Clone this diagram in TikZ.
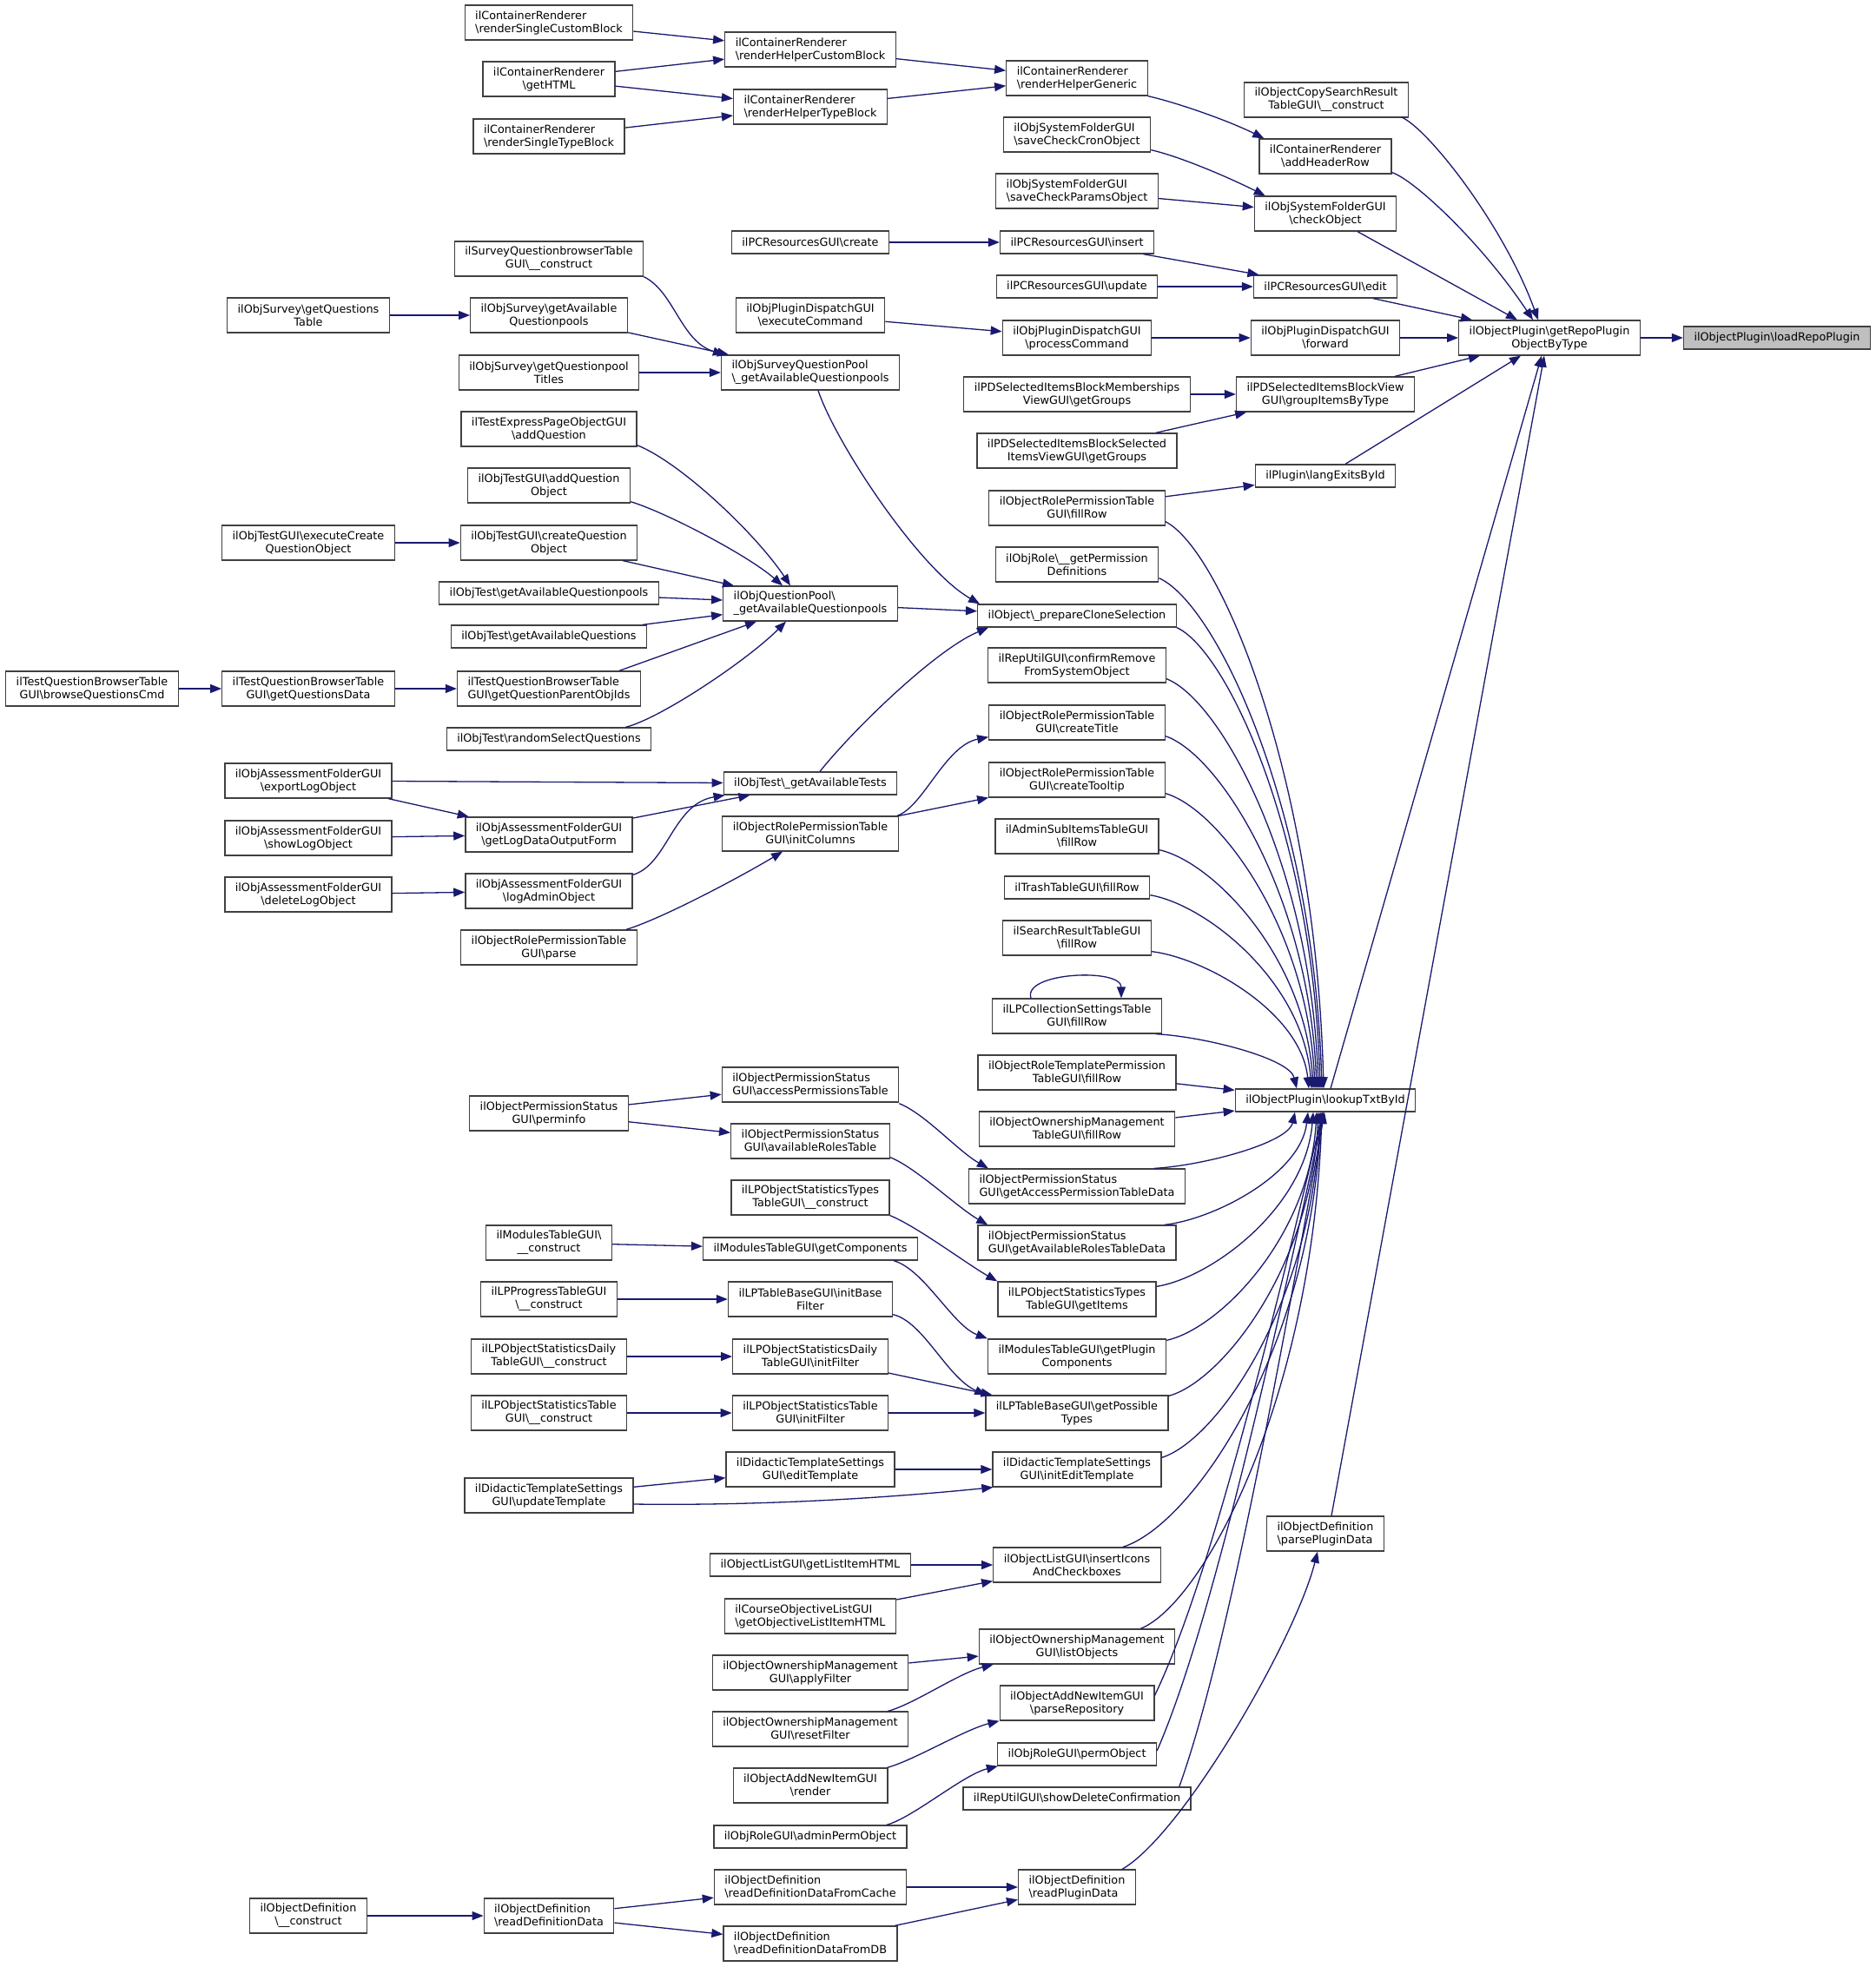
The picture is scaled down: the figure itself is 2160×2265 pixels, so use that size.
\documentclass[tikz,border=0pt]{standalone}
\usepackage{fontspec}
\newfontfamily\dvs{DejaVu Sans}
\usetikzlibrary{arrows.meta,calc}
\definecolor{edc}{HTML}{191970}
\definecolor{ndc}{HTML}{404040}
\definecolor{selc}{HTML}{BFBFBF}
\newcommand{\bsl}{\textbackslash}
\newcommand{\hubc}[6]{\draw[e] let \p1=(#1), \p2=(#2) in (\p1) .. controls ({\x1+#3*(\x2-\x1)},{\y1+#4*(\y2-\y1)}) and ({\x2-#5*(\x2-\x1)},{\y2-#6*(\y2-\y1)}) .. (\p2);}
\newcommand{\hub}[2]{\hubc{#1}{#2}{0.35}{0.05}{0.05}{0.55}}
\tikzset{
  nb/.style={draw=ndc, fill=white, line width=1.3pt, inner xsep=12pt, inner ysep=2pt, font=\dvs\fontsize{12.8}{15}\selectfont},
  n1/.style={nb, minimum height=26pt},
  n2/.style={nb, minimum height=40pt, align=center},
  n2l/.style={nb, minimum height=40pt, align=left},
  e/.style={draw=edc, line width=1.3pt, -{Triangle[length=13pt,width=10pt]}},
}
\begin{document}
\begin{tikzpicture}[x=1pt,y=-1pt]
\fill[white] (0,0) rectangle (2160,2265);
\useasboundingbox (0,0) rectangle (2160,2265);
% column 7 / 6
\node[n1, fill=selc] (lrp) at (2046,389) {ilObjectPlugin\bsl loadRepoPlugin};
\node[n2] (grp) at (1784,389) {ilObjectPlugin\bsl getRepoPlugin\\ObjectByType};
% column 5
\node[n2] (cps) at (1527,115) {ilObjectCopySearchResult\\TableGUI\bsl\_\_construct};
\node[n2] (ahr) at (1526,180) {ilContainerRenderer\\\bsl addHeaderRow};
\node[n2] (sfc) at (1526,246) {ilObjSystemFolderGUI\\\bsl checkObject};
\node[n1] (pce) at (1526,330) {ilPCResourcesGUI\bsl edit};
\node[n2] (pdf) at (1526,389) {ilObjPluginDispatchGUI\\\bsl forward};
\node[n2] (gib) at (1526,454) {ilPDSelectedItemsBlockView\\GUI\bsl groupItemsByType};
\node[n1] (lei) at (1526,548) {ilPlugin\bsl langExitsById};
\node[n1] (lk) at (1526,1267) {ilObjectPlugin\bsl lookupTxtById};
\node[n2l] (ppd) at (1526,1766) {ilObjectDefinition\\\bsl parsePluginData};
% column 4
\node[n2l] (rhg) at (1240,90) {ilContainerRenderer\\\bsl renderHelperGeneric};
\node[n2l] (scc) at (1240,155) {ilObjSystemFolderGUI\\\bsl saveCheckCronObject};
\node[n2l] (scp) at (1240,220) {ilObjSystemFolderGUI\\\bsl saveCheckParamsObject};
\node[n1] (pci) at (1240,279) {ilPCResourcesGUI\bsl insert};
\node[n1] (pcu) at (1240,330) {ilPCResourcesGUI\bsl update};
\node[n2] (ppc) at (1240,389) {ilObjPluginDispatchGUI\\\bsl processCommand};
\node[n2] (pdm) at (1240,454) {ilPDSelectedItemsBlockMemberships\\ViewGUI\bsl getGroups};
\node[n2] (pds) at (1240,519) {ilPDSelectedItemsBlockSelected\\ItemsViewGUI\bsl getGroups};
\node[n2] (rfr) at (1240,585) {ilObjectRolePermissionTable\\GUI\bsl fillRow};
\node[n2] (gpd) at (1240,650) {ilObjRole\bsl\_\_getPermission\\Definitions};
\node[n1] (pcs) at (1240,709) {ilObject\bsl\_prepareCloneSelection};
\node[n2] (crm) at (1240,766) {ilRepUtilGUI\bsl confirmRemove\\FromSystemObject};
\node[n2] (ctt) at (1240,832) {ilObjectRolePermissionTable\\GUI\bsl createTitle};
\node[n2] (cto) at (1240,898) {ilObjectRolePermissionTable\\GUI\bsl createTooltip};
\node[n2] (asi) at (1240,963) {ilAdminSubItemsTableGUI\\\bsl fillRow};
\node[n1] (trs) at (1240,1022) {ilTrashTableGUI\bsl fillRow};
\node[n2] (srt) at (1240,1080) {ilSearchResultTableGUI\\\bsl fillRow};
\node[n2] (lpc) at (1240,1170) {ilLPCollectionSettingsTable\\GUI\bsl fillRow};
\node[n2] (rtp) at (1240,1235) {ilObjectRoleTemplatePermission\\TableGUI\bsl fillRow};
\node[n2] (omt) at (1240,1300) {ilObjectOwnershipManagement\\TableGUI\bsl fillRow};
\node[n2l] (gap) at (1240,1366) {ilObjectPermissionStatus\\GUI\bsl getAccessPermissionTableData};
\node[n2l] (gar) at (1240,1431) {ilObjectPermissionStatus\\GUI\bsl getAvailableRolesTableData};
\node[n2] (gti) at (1240,1496) {ilLPObjectStatisticsTypes\\TableGUI\bsl getItems};
\node[n2] (gpc) at (1240,1562) {ilModulesTableGUI\bsl getPlugin\\Components};
\node[n2] (gpt) at (1240,1627) {ilLPTableBaseGUI\bsl getPossible\\Types};
\node[n2] (iet) at (1240,1692) {ilDidacticTemplateSettings\\GUI\bsl initEditTemplate};
\node[n2] (iic) at (1240,1802) {ilObjectListGUI\bsl insertIcons\\AndCheckboxes};
\node[n2] (lob) at (1240,1896) {ilObjectOwnershipManagement\\GUI\bsl listObjects};
\node[n2] (prp) at (1240,1961) {ilObjectAddNewItemGUI\\\bsl parseRepository};
\node[n1] (pob) at (1240,2020) {ilObjRoleGUI\bsl permObject};
\node[n1] (sdc) at (1240,2071) {ilRepUtilGUI\bsl showDeleteConfirmation};
\node[n2l] (rpd) at (1240,2173) {ilObjectDefinition\\\bsl readPluginData};
% column 3
\node[n2l] (rhc) at (933,57) {ilContainerRenderer\\\bsl renderHelperCustomBlock};
\node[n2l] (rht) at (933,123) {ilContainerRenderer\\\bsl renderHelperTypeBlock};
\node[n1] (pcc) at (933,279) {ilPCResourcesGUI\bsl create};
\node[n2] (pec) at (933,363) {ilObjPluginDispatchGUI\\\bsl executeCommand};
\node[n2l] (sqp) at (933,429) {ilObjSurveyQuestionPool\\\bsl\_getAvailableQuestionpools};
\node[n2l] (oqp) at (933,695) {ilObjQuestionPool\bsl\\\_getAvailableQuestionpools};
\node[n1] (gat) at (933,902) {ilObjTest\bsl\_getAvailableTests};
\node[n2] (ico) at (933,960) {ilObjectRolePermissionTable\\GUI\bsl initColumns};
\node[n2l] (apt) at (933,1249) {ilObjectPermissionStatus\\GUI\bsl accessPermissionsTable};
\node[n2] (art) at (933,1314) {ilObjectPermissionStatus\\GUI\bsl availableRolesTable};
\node[n2] (stc) at (933,1379) {ilLPObjectStatisticsTypes\\TableGUI\bsl\_\_construct};
\node[n1] (mgc) at (933,1438) {ilModulesTableGUI\bsl getComponents};
\node[n2] (ibf) at (933,1496) {ilLPTableBaseGUI\bsl initBase\\Filter};
\node[n2] (dif) at (933,1562) {ilLPObjectStatisticsDaily\\TableGUI\bsl initFilter};
\node[n2] (tif) at (933,1627) {ilLPObjectStatisticsTable\\GUI\bsl initFilter};
\node[n2] (edt) at (933,1692) {ilDidacticTemplateSettings\\GUI\bsl editTemplate};
\node[n1] (gli) at (933,1802) {ilObjectListGUI\bsl getListItemHTML};
\node[n2l] (goi) at (933,1861) {ilCourseObjectiveListGUI\\\bsl getObjectiveListItemHTML};
\node[n2] (oaf) at (933,1926) {ilObjectOwnershipManagement\\GUI\bsl applyFilter};
\node[n2] (orf) at (933,1991) {ilObjectOwnershipManagement\\GUI\bsl resetFilter};
\node[n2] (anr) at (933,2056) {ilObjectAddNewItemGUI\\\bsl render};
\node[n1] (apo) at (933,2115) {ilObjRoleGUI\bsl adminPermObject};
\node[n2l] (rdc) at (933,2173) {ilObjectDefinition\\\bsl readDefinitionDataFromCache};
\node[n2l] (rdb) at (933,2238) {ilObjectDefinition\\\bsl readDefinitionDataFromDB};
% column 2
\node[n2l] (rsc) at (632,26) {ilContainerRenderer\\\bsl renderSingleCustomBlock};
\node[n2] (ghtml) at (632,91) {ilContainerRenderer\\\bsl getHTML};
\node[n2l] (rst) at (632,157) {ilContainerRenderer\\\bsl renderSingleTypeBlock};
\node[n2] (sqb) at (632,298) {ilSurveyQuestionbrowserTable\\GUI\bsl\_\_construct};
\node[n2] (sga) at (632,363) {ilObjSurvey\bsl getAvailable\\Questionpools};
\node[n2] (sgt) at (632,429) {ilObjSurvey\bsl getQuestionpool\\Titles};
\node[n2] (tea) at (632,494) {ilTestExpressPageObjectGUI\\\bsl addQuestion};
\node[n2] (taq) at (632,559) {ilObjTestGUI\bsl addQuestion\\Object};
\node[n2] (tcq) at (632,625) {ilObjTestGUI\bsl createQuestion\\Object};
\node[n1] (tgq) at (632,683) {ilObjTest\bsl getAvailableQuestionpools};
\node[n1] (tgs) at (632,733) {ilObjTest\bsl getAvailableQuestions};
\node[n2l] (qpo) at (632,793) {ilTestQuestionBrowserTable\\GUI\bsl getQuestionParentObjIds};
\node[n1] (rsq) at (632,851) {ilObjTest\bsl randomSelectQuestions};
\node[n2] (ldo) at (632,961) {ilObjAssessmentFolderGUI\\\bsl getLogDataOutputForm};
\node[n2] (lao) at (632,1026) {ilObjAssessmentFolderGUI\\\bsl logAdminObject};
\node[n2] (rpp) at (632,1091) {ilObjectRolePermissionTable\\GUI\bsl parse};
\node[n2] (pin) at (632,1282) {ilObjectPermissionStatus\\GUI\bsl perminfo};
\node[n2] (mtc) at (632,1431) {ilModulesTableGUI\bsl\\\_\_construct};
\node[n2] (lpt) at (632,1496) {ilLPProgressTableGUI\\\bsl\_\_construct};
\node[n2] (dcn) at (632,1562) {ilLPObjectStatisticsDaily\\TableGUI\bsl\_\_construct};
\node[n2] (tcn) at (632,1627) {ilLPObjectStatisticsTable\\GUI\bsl\_\_construct};
\node[n2] (utp) at (632,1722) {ilDidacticTemplateSettings\\GUI\bsl updateTemplate};
\node[n2l] (rdd) at (632,2206) {ilObjectDefinition\\\bsl readDefinitionData};
% column 1 / 0
\node[n2] (sgq) at (355,363) {ilObjSurvey\bsl getQuestions\\Table};
\node[n2] (ecq) at (355,625) {ilObjTestGUI\bsl executeCreate\\QuestionObject};
\node[n2] (gqd) at (355,793) {ilTestQuestionBrowserTable\\GUI\bsl getQuestionsData};
\node[n2] (elo) at (355,899) {ilObjAssessmentFolderGUI\\\bsl exportLogObject};
\node[n2] (slo) at (355,965) {ilObjAssessmentFolderGUI\\\bsl showLogObject};
\node[n2] (dlo) at (355,1030) {ilObjAssessmentFolderGUI\\\bsl deleteLogObject};
\node[n2] (odc) at (355,2206) {ilObjectDefinition\\\bsl\_\_construct};
\node[n2] (bqc) at (106,793) {ilTestQuestionBrowserTable\\GUI\bsl browseQuestionsCmd};

% ---------- straight edges
\draw[e] (rsc) -- (rhc);
\draw[e] (ghtml) -- (rhc);
\draw[e] (ghtml) -- (rht);
\draw[e] (rst) -- (rht);
\draw[e] (rhc) -- (rhg);
\draw[e] (rht) -- (rhg);
\draw[e] (scp) -- (sfc);
\draw[e] (pcc) -- (pci);
\draw[e] (pci) -- (pce);
\draw[e] (pcu) -- (pce);
\draw[e] (pec) -- (ppc);
\draw[e] (ppc) -- (pdf);
\draw[e] (pdf) -- (grp);
\draw[e] (pdm) -- (gib);
\draw[e] (pds) -- (gib);
\draw[e] (rfr) -- (lei);
\draw[e] (grp) -- (lrp);
\draw[e] (sgq) -- (sga);
\draw[e] (sga) -- (sqp);
\draw[e] (sgt) -- (sqp);
\draw[e] (oqp) -- (pcs);
\draw[e] (ecq) -- (tcq);
\draw[e] (tgq) -- (oqp);
\draw[e] (tgs) -- (oqp);
\draw[e] (bqc) -- (gqd);
\draw[e] (gqd) -- (qpo);
\draw[e] (elo) -- (gat);
\draw[e] (elo) -- (ldo);
\draw[e] (slo) -- (ldo);
\draw[e] (dlo) -- (lao);
\draw[e] (ldo) -- (gat);
\draw[e] (ico) -- (cto);
\draw[e] (pin) -- (apt);
\draw[e] (pin) -- (art);
\draw[e] (mtc) -- (mgc);
\draw[e] (lpt) -- (ibf);
\draw[e] (dcn) -- (dif);
\draw[e] (dif) -- (gpt);
\draw[e] (tcn) -- (tif);
\draw[e] (tif) -- (gpt);
\draw[e] (utp) -- (edt);
\draw[e] (edt) -- (iet);
\draw[e] (gli) -- (iic);
\draw[e] (goi) -- (iic);
\draw[e] (oaf) -- (lob);
\draw[e] (rdc) -- (rpd);
\draw[e] (rdb) -- (rpd);
\draw[e] (rdd) -- (rdc);
\draw[e] (rdd) -- (rdb);
\draw[e] (odc) -- (rdd);
\draw[e] (rtp) -- (lk);
\draw[e] (omt) -- (lk);
% anchored straight edges
\draw[e] ([xshift=37pt]sfc.south) -- ([xshift=-37pt]grp.north);
\draw[e] ([xshift=55pt]pce.south) -- ([xshift=-89pt]grp.north);
\draw[e] ([xshift=80pt]gib.north) -- ([xshift=-80pt]grp.south);
\draw[e] ([xshift=23pt]lei.north) -- ([xshift=-33pt]grp.south);
\draw[e] ([xshift=6pt]lk.north) -- ([xshift=-9pt]grp.south);
\draw[e] ([xshift=7pt]ppd.north) -- ([xshift=-6pt]grp.south);
\draw[e] ([xshift=-17pt]tcq.south east) -- ([xshift=13pt]oqp.north west);
\draw[e] ([xshift=81pt]qpo.north) -- ([xshift=-62pt]oqp.south);
% ---------- curved edges
\draw[e] (rhg.south east) .. controls +(35,8) and +(-40,-20) .. ([xshift=6pt]ahr.north west);
\draw[e] ([yshift=2pt]ahr.south east) .. controls +(25,8) and +(-60,-90) .. ([xshift=-19pt]grp.north);
\draw[e] ([xshift=-9pt,yshift=1pt]cps.south east) .. controls +(30,12) and +(-40,-110) .. ([xshift=-13pt]grp.north);
\draw[e] ([yshift=3pt]scc.south east) .. controls +(35,8) and +(-40,-20) .. ([xshift=13pt]sfc.north west);
\draw[e] ([xshift=52pt]rpd.north) .. controls +(70,-40) and +(-25,100) .. ([xshift=-9pt]ppd.south);
\draw[e] (sqb.south east) .. controls +(35,17) and +(-50,-15) .. ([xshift=4pt]sqp.north west);
\draw[e] ([xshift=9pt]sqp.south) .. controls +(20,60) and +(-70,-40) .. ([xshift=3pt]pcs.north west);
\draw[e] ([xshift=11pt]gat.north) .. controls +(40,-50) and +(-60,25) .. ([xshift=13pt]pcs.south west);
\draw[e] ([yshift=2pt]tea.south east) .. controls +(50,20) and +(-40,-60) .. ([xshift=-23pt]oqp.north);
\draw[e] ([yshift=2pt]taq.south east) .. controls +(40,12) and +(-40,-35) .. ([xshift=-32pt]oqp.north);
\draw[e] ([xshift=-30pt]rsq.north east) .. controls +(40,-10) and +(-45,45) .. ([xshift=-28pt]oqp.south);
\draw[e] ([yshift=-2pt]lao.north east) .. controls +(40,-12) and +(-60,10) .. ([xshift=2pt]gat.south west);
\draw[e] ([xshift=-13pt]rpp.north east) .. controls +(40,-12) and +(-50,30) .. ([xshift=-32pt]ico.south);
\draw[e] ([xshift=-2pt]ico.north east) .. controls +(30,-10) and +(-50,10) .. ([yshift=4pt]ctt.south west);
\draw[e] ([yshift=-1pt]apt.south east) .. controls +(30,12) and +(-35,-20) .. ([xshift=23pt]gap.north west);
\draw[e] ([yshift=2pt]art.south east) .. controls +(30,12) and +(-35,-20) .. ([xshift=12pt]gar.north west);
\draw[e] (stc.south east) .. controls +(30,12) and +(-35,-20) .. (gti.north west);
\draw[e] ([xshift=-28pt]mgc.south east) .. controls +(35,10) and +(-40,-15) .. (gpc.north west);
\draw[e] ([yshift=3pt]ibf.south east) .. controls +(35,8) and +(-45,-20) .. ([xshift=1pt]gpt.north west);
\draw[e] ([yshift=-10pt]utp.east) .. controls +(150,2) and +(-120,12) .. ([xshift=1pt]iet.south west);
\draw[e] ([xshift=-24pt]orf.north east) .. controls +(30,-8) and +(-40,10) .. ([xshift=17pt]lob.south west);
\draw[e] ([xshift=-1pt]anr.north east) .. controls +(30,-8) and +(-40,10) .. (prp.south west);
\draw[e] ([xshift=-24pt]apo.north east) .. controls +(30,-8) and +(-40,10) .. ([xshift=1pt]pob.south west);
\draw[e] ([xshift=-53pt]lpc.north) .. controls +(-10,-30) and +(0,-35) .. ([xshift=51pt]lpc.north);
% ---------- hub into lookupTxtById
\hub{[yshift=5pt]rfr.south east}{[xshift=-2pt]lk.north}
\hub{[yshift=5pt]gpd.south east}{[xshift=-4pt]lk.north}
\hub{pcs.south east}{[xshift=-6pt]lk.north}
\hub{[yshift=5pt]crm.south east}{[xshift=-8pt]lk.north}
\hub{[yshift=5pt]ctt.south east}{[xshift=-10pt]lk.north}
\hub{[yshift=5pt]cto.south east}{[xshift=-12pt]lk.north}
\hub{[yshift=5pt]asi.south east}{[xshift=-14pt]lk.north}
\hub{[yshift=5pt]trs.south east}{[xshift=-16pt]lk.north}
\hub{[yshift=5pt]srt.south east}{[xshift=-19pt]lk.north}
\hub{[xshift=-7pt]lpc.south east}{[xshift=-33pt]lk.north}
\hub{[xshift=-36pt]gap.north east}{[xshift=-35pt]lk.south}
\hub{[xshift=-14pt]gar.north east}{[xshift=-20pt]lk.south}
\hub{[yshift=-6pt]gti.north east}{[xshift=-14pt]lk.south}
\hub{[yshift=-2pt]gpc.north east}{[xshift=-10pt]lk.south}
\hub{[yshift=-1pt]gpt.north east}{[xshift=-8pt]lk.south}
\hub{[yshift=-7pt]iet.north east}{[xshift=-6pt]lk.south}
\hub{[xshift=-44pt]iic.north east}{[xshift=-5pt]lk.south}
\hub{[xshift=-40pt]lob.north east}{[xshift=-4pt]lk.south}
\hubc{[yshift=-12pt]prp.north east}{[xshift=-3pt]lk.south}{0.25}{0.15}{0.45}{0.55}
\hubc{[yshift=4pt]pob.east}{[xshift=-2pt]lk.south}{0.25}{0.15}{0.45}{0.55}
\hubc{[xshift=-14pt]sdc.north east}{[xshift=-1pt]lk.south}{0.25}{0.15}{0.45}{0.55}
\end{tikzpicture}
\end{document}
